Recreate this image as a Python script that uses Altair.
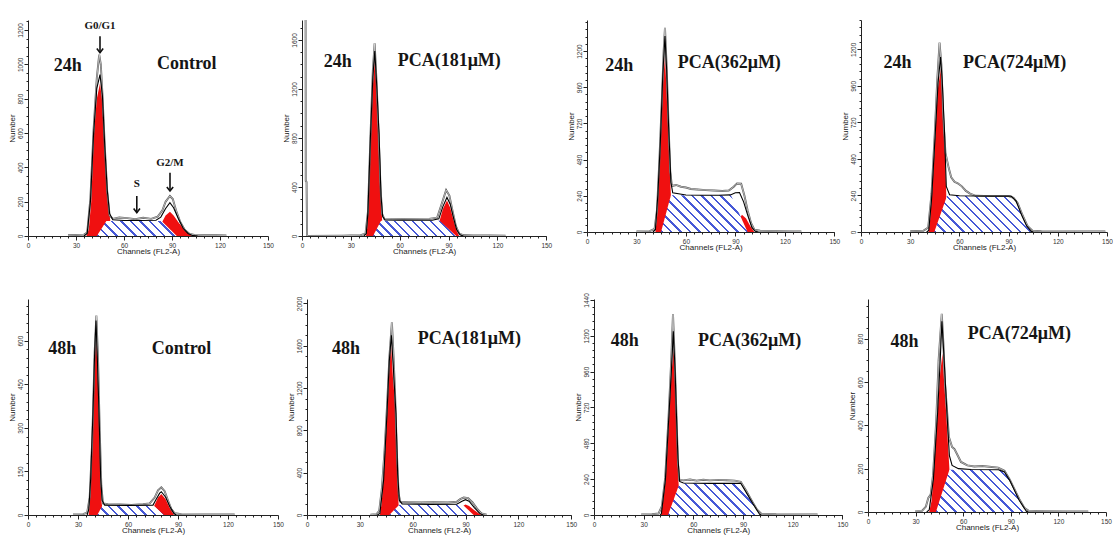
import math
import altair as alt
import pandas as pd

# ---------------- data: (channel, count) ----------------
# 24 h
H24_CTRL_G1 = [(36.5,0),(38,40),(39.5,200),(41.2,590),(43,800),(45,890),(46.2,800),(47.5,590),(49,350),(50.2,200),(51.5,80),(53,20),(54,0)]
H24_CTRL_G2 = [(82,0),(84,85),(86,120),(88.7,141),(91,120),(94,80),(97,45),(100,15),(102.5,0)]
H24_CTRL_S = [(43,0),(49,88),(83.5,88),(93,0)]
H24_CTRL_RAW = [(25,4),(30,6),(35,8),(37,20),(39,220),(41,620),(43,920),(44.5,1056),(45.5,1000),(46.5,830),(48,520),(49.5,260),(51,120),(53,100),(57,108),(62,104),(67,98),(72,106),(77,100),(81,112),(84,150),(86,200),(88.7,233),(90.5,215),(92.5,150),(95,85),(98,35),(101,12),(104,6),(110,4),(118,4),(124,3)]
H24_CTRL_FIT = [(35,0),(37,15),(39,200),(41,600),(43,860),(45,940),(46.5,820),(48,520),(49.5,270),(51,130),(53,95),(60,90),(70,90),(80,92),(83,110),(86,160),(88.7,194),(91,165),(94,100),(97,45),(100,15),(103,2),(106,0)]

H24_P181_G1 = [(39.3,0),(40,60),(40.9,290),(42.1,833),(43.6,1240),(44.8,1445),(46,1150),(47.5,833),(48.5,290),(49.3,110),(50.5,20),(51.5,0)]
H24_P181_G2 = [(82,0),(84.5,125),(86.5,220),(89,290),(91,230),(93,130),(95,40),(96.5,0)]
H24_P181_S = [(43.6,0),(48.5,125),(84.5,125),(94.7,0)]
H24_P181_RAW = [(0,1800),(2.2,1800),(2.3,450),(2.8,440),(3.1,0),(25,3),(30,4),(36,6),(39,20),(40.5,200),(42,800),(43.5,1350),(44.6,1572),(45.8,1250),(47,850),(48.2,400),(49.2,180),(50.5,140),(55,138),(62,140),(70,138),(78,140),(83,150),(85.5,250),(88.5,375),(90.5,330),(92.5,200),(94.5,80),(96.5,20),(99,8),(105,5),(115,4),(125,3)]
H24_P181_FIT = [(38,0),(39.5,20),(40.5,200),(42,800),(43.5,1300),(44.7,1510),(46,1200),(47.3,830),(48.5,330),(49.5,160),(51,130),(60,128),(70,128),(80,128),(84,140),(86.5,240),(89,315),(91,260),(93,150),(95,50),(97,10),(99,0)]

H24_P362_G1 = [(41.5,0),(42.5,100),(43.3,320),(44.8,650),(46.2,1000),(47.3,1167),(48.2,950),(49.3,650),(50.9,240),(51.8,80),(53,0)]
H24_P362_G2 = [(88,0),(92,80),(94,115),(96.5,90),(99,40),(101.5,0)]
H24_P362_S = [(44.9,0),(50.9,243),(87.3,243),(97.4,0)]
H24_P362_RAW = [(30,3),(38,6),(41,20),(42.5,150),(44,500),(45.5,900),(46.5,1200),(47.3,1355),(48.3,1100),(49.5,700),(50.5,400),(51.5,305),(54,312),(57,300),(60,295),(63,285),(67,282),(72,278),(77,275),(82,272),(86,275),(89,300),(91,322),(93.5,320),(95.5,240),(97.5,140),(99.5,60),(101.5,15),(105,8),(115,5),(125,4),(130,3)]
H24_P362_FIT = [(40,0),(41.5,15),(43,250),(44.5,600),(46,1050),(47.3,1300),(48.3,1080),(49.5,700),(50.9,330),(52,260),(60,245),(70,244),(80,244),(87,246),(90,260),(92.5,262),(95,200),(97.5,110),(100,30),(102,5),(104,0)]

H24_P724_G1 = [(41.2,0),(42,60),(43,204),(45.3,642),(47,950),(49,1091),(50,860),(50.9,642),(52,236),(53,80),(54,0)]
H24_P724_G2 = []
H24_P724_S = [(44.7,0),(52.4,236),(91.5,236),(94.5,205),(98,110),(103.7,0)]
H24_P724_RAW = [(30,5),(38,8),(41,30),(43,250),(45,650),(46.5,1000),(47.9,1244),(49,1100),(50.2,750),(51.5,520),(53.5,420),(55,360),(57,330),(59,320),(61.5,300),(64,270),(66.5,252),(70,238),(80,236),(90,236),(93,225),(95.5,190),(98.5,110),(101.5,40),(104.5,8),(110,5),(130,4),(149,3)]
H24_P724_FIT = [(40,0),(41.3,10),(43,210),(45.3,650),(47,980),(48.5,1150),(49.5,1000),(50.9,660),(52,300),(54,245),(60,238),(80,236),(91.5,236),(94.5,205),(98,110),(101,40),(103.7,5),(105,0)]

# 48 h
H48_CTRL_G1 = [(36.4,0),(37,30),(37.6,118),(39,348),(39.8,520),(40.6,635),(41.6,520),(42.6,348),(43.6,118),(44.2,40),(45,10),(46,0)]
H48_CTRL_G2 = [(73,0),(76,35),(78,60),(80,72),(82.5,55),(85,25),(87.6,0)]
H48_CTRL_S = [(41.6,0),(44.6,32),(75.6,32),(81.6,0)]
H48_CTRL_RAW = [(27,2),(33,3),(35.5,8),(37,60),(38.5,250),(40,560),(41,686),(42,540),(43,300),(44,100),(45,40),(48,37),(55,36),(62,35),(69,37),(73,40),(76,60),(78,85),(80,95),(82,82),(84,50),(86,20),(88,6),(92,3),(105,2),(124,2)]
H48_CTRL_FIT = [(35.5,0),(36.5,20),(37.6,125),(39,355),(40,560),(40.8,669),(41.6,540),(42.6,355),(43.6,130),(44.5,50),(46,34),(60,33),(75,34),(77,55),(79,75),(80,80),(82.5,62),(85,30),(87.6,5),(89,0)]

H48_P181_G1 = [(41.4,0),(42.3,100),(43.5,325),(45.4,955),(46.5,1350),(47.7,1616),(48.8,1300),(50.5,955),(51.5,325),(52,100),(53,30),(54,0)]
H48_P181_G2 = [(85,0),(88,80),(90,100),(92,85),(95,45),(98,10),(99.5,0)]
H48_P181_S = [(46.7,0),(52.4,98),(88.4,98),(94.6,0)]
H48_P181_RAW = [(36,3),(39.5,8),(41,40),(42.5,250),(44,600),(45.5,1050),(46.8,1500),(48.2,1821),(49,1550),(50,1150),(51,600),(52,200),(53,125),(58,122),(65,118),(72,120),(80,118),(85,125),(87,150),(89,165),(91.5,160),(94,120),(96.5,60),(99,15),(102,3)]
H48_P181_FIT = [(40,0),(41.4,15),(43.5,330),(45.4,960),(46.7,1450),(47.9,1700),(49,1400),(50.5,960),(51.5,380),(52.4,140),(54,105),(70,100),(85,102),(88,130),(90,145),(92,130),(95,70),(98,15),(100,0)]

H48_P362_G1 = [(40.5,0),(41.5,80),(43.1,230),(45.3,676),(46.8,950),(48.1,1111),(49,900),(49.7,676),(50.5,400),(51.1,207),(52,80),(53,0)]
H48_P362_G2 = []
H48_P362_S = [(44.7,0),(51.7,212),(88.6,212),(100,0)]
H48_P362_RAW = [(28.5,3),(35,5),(39,10),(41,60),(43,250),(45,650),(46.7,1050),(47.7,1345),(48.7,1050),(49.7,700),(50.7,350),(51.5,235),(54,232),(58,238),(62,230),(66,236),(70,232),(75,235),(80,233),(85,230),(88.6,222),(92,160),(95.5,90),(98.5,35),(101,8),(110,5),(125,4),(135,3)]
H48_P362_FIT = [(40,0),(40.7,10),(43.1,235),(45.3,680),(46.8,980),(47.9,1230),(49,960),(49.7,700),(50.7,380),(51.7,225),(54,214),(70,212),(88.6,212),(92,150),(96,75),(100,5),(101,0)]

H48_P724_G1 = [(38.6,0),(40,50),(41.2,146),(43.9,454),(45.5,640),(46.9,731),(48,600),(49.3,454),(50.5,300),(51.3,200),(52.5,80),(54,0)]
H48_P724_G2 = []
H48_P724_S = [(42.8,0),(51.3,195),(82.2,195),(86,185),(89.3,146),(95.3,54),(99.8,0)]
H48_P724_RAW = [(29.7,3),(34,5),(36.5,25),(38,65),(39.5,80),(41,170),(43,420),(44.5,700),(46.5,915),(47.5,780),(48.5,600),(49.7,480),(51,346),(53,300),(54.5,290),(56,269),(58.6,231),(62.6,215),(67,210),(72,212),(78,208),(82,205),(86,190),(89.3,150),(92,110),(95.3,60),(98.5,20),(101.2,6),(110,4),(125,3),(138.8,3)]
H48_P724_FIT = [(37,0),(38.6,10),(41.2,150),(43.9,460),(45.5,700),(46.6,880),(47.7,740),(49.3,520),(50.5,360),(51.3,260),(53,215),(57,200),(65,196),(82.2,195),(86,185),(89.3,146),(95.3,54),(99.8,3),(101,0)]

G1_SETS = [H24_CTRL_G1, H24_P181_G1, H24_P362_G1, H24_P724_G1, H48_CTRL_G1, H48_P181_G1, H48_P362_G1, H48_P724_G1]
G2_SETS = [H24_CTRL_G2, H24_P181_G2, H24_P362_G2, H24_P724_G2, H48_CTRL_G2, H48_P181_G2, H48_P362_G2, H48_P724_G2]
S_SETS = [H24_CTRL_S, H24_P181_S, H24_P362_S, H24_P724_S, H48_CTRL_S, H48_P181_S, H48_P362_S, H48_P724_S]
RAW_SETS = [H24_CTRL_RAW, H24_P181_RAW, H24_P362_RAW, H24_P724_RAW, H48_CTRL_RAW, H48_P181_RAW, H48_P362_RAW, H48_P724_RAW]
FIT_SETS = [H24_CTRL_FIT, H24_P181_FIT, H24_P362_FIT, H24_P724_FIT, H48_CTRL_FIT, H48_P181_FIT, H48_P362_FIT, H48_P724_FIT]

TIMES = ["24h", "24h", "24h", "24h", "48h", "48h", "48h", "48h"]
CONDITIONS = ["Control", "PCA(181μM)", "PCA(362μM)", "PCA(724μM)", "Control", "PCA(181μM)", "PCA(362μM)", "PCA(724μM)"]
TIME_POS = [(24.8,990),(21.9,1423),(19.6,1101),(22.2,1112),(20.6,571),(22.1,1569),(18.5,1167),(23,785)]
COND_POS = [(99.2,1002),(90.4,1431),(86.3,1123),(93.7,1112),(92.1,571),(92.2,1664),(94,1167),(95.4,823)]

# y axis scales (count axis) per panel
Y_MAX = [1258, 1763, 1406, 1393, 743, 2042, 1446, 983]
Y_MAJOR = [200, 400, 240, 240, 150, 400, 240, 200]
Y_MINOR = [50, 100, 48, 48, 30, 100, 48, 50]

# phase annotations of the first panel
PHASES = ["G0/G1", "S", "G2/M"]
PHASE_X = [45, 68, 88.75]
PHASE_LABEL_Y = [1221, 302, 426]
ARROW_TOP = [1163, 233, 368]
ARROW_TIP = [1068, 136, 262]

# ---------------- layout / style ----------------
X_RANGE = [240, 244.3, 247.3, 246, 250, 264.2, 248.4, 238]
PANEL_W = [273.4, 284.3, 274, 246, 278.6, 286.7, 273.3, 238]
PANEL_H = [216, 216, 212, 212, 216, 216, 216, 213]
RED = "#f01010"
HATCH = "#4658d6"
AX = "#222222"


def df(points):
    return pd.DataFrame(points, columns=["ch", "n"])


def hatch_gradient(i):
    s = S_SETS[i]
    xs = [p[0] for p in s]
    W = (max(xs) - min(xs)) * X_RANGE[i] / 150.0
    H = max(p[1] for p in s) * PANEL_H[i] / Y_MAX[i]
    t = (W + H) / (W * W + H * H)
    n_str = max(1, round((W + H) / math.sqrt(2) / 6.6))
    stops = []
    for k in range(n_str):
        a, b, c = k / n_str, (k + 0.24) / n_str, (k + 1) / n_str
        stops += [alt.GradientStop(offset=a, color=HATCH), alt.GradientStop(offset=b, color=HATCH),
                  alt.GradientStop(offset=b, color="#ffffff"), alt.GradientStop(offset=c, color="#ffffff")]
    return alt.LinearGradient(gradient="linear", stops=stops, x1=0, y1=1, x2=t * W, y2=1 - t * H)


def encs(i):
    xaxis = alt.Axis(
        values=list(range(0, 151, 5)),
        labelExpr="datum.value % 30 === 0 ? datum.label : ''",
        tickSize={"condition": {"test": "datum.value % 30 === 0", "value": 4}, "value": 2},
        title="Channels (FL2-A)", labelFontSize=6.5, titleFontSize=8, titleFontWeight="normal",
        labelPadding=2, titlePadding=-1, labelOverlap=False, labelFlush=False, grid=False,
        domainColor=AX, tickColor=AX, labelColor="#333", titleColor="#222",
        labelFont="Liberation Sans", titleFont="Liberation Sans",
    )
    major, minor = Y_MAJOR[i], Y_MINOR[i]
    yvals = [k * minor for k in range(int(Y_MAX[i] // minor) + 1)]
    yaxis = alt.Axis(
        values=yvals, format="d",
        labelExpr=f"datum.value % {major} === 0 ? datum.label : ''",
        tickSize={"condition": {"test": f"datum.value % {major} === 0", "value": 4}, "value": 2},
        title="Number", labelAngle=270, labelAlign="center", labelBaseline="bottom",
        labelFontSize=6.5, titleFontSize=8, titleFontWeight="normal", labelPadding=1, titlePadding=1,
        labelOverlap=False, labelFlush=False, grid=False,
        domainColor=AX, tickColor=AX, labelColor="#333", titleColor="#222",
        labelFont="Liberation Sans", titleFont="Liberation Sans",
    )
    x = alt.X("ch:Q", scale=alt.Scale(domain=[0, 150], range=[0, X_RANGE[i]], nice=False, zero=False), axis=xaxis)
    y = alt.Y("n:Q", scale=alt.Scale(domain=[0, Y_MAX[i]], nice=False), axis=yaxis)
    return x, y


def panel(i):
    x, y = encs(i)
    layers = [alt.Chart(df(G1_SETS[i])).mark_area(color=RED, clip=True).encode(x=x, y=y)]
    if G2_SETS[i]:
        layers.append(alt.Chart(df(G2_SETS[i])).mark_area(color=RED, clip=True).encode(x=x, y=y))
    layers.append(alt.Chart(df(S_SETS[i])).mark_area(color=hatch_gradient(i), clip=True).encode(x=x, y=y))
    raw = df(RAW_SETS[i])
    layers.append(alt.Chart(raw).mark_line(color="#5a5a5a", strokeWidth=1.9, clip=True).encode(x=x, y=y))
    layers.append(alt.Chart(raw).mark_line(color="#f2f2f2", strokeWidth=0.6, clip=True).encode(x=x, y=y))
    layers.append(alt.Chart(df(FIT_SETS[i])).mark_line(color="#000000", strokeWidth=1.1, clip=True).encode(x=x, y=y))
    labels = pd.DataFrame({
        "ch": [TIME_POS[i][0], COND_POS[i][0]],
        "n": [TIME_POS[i][1], COND_POS[i][1]],
        "t": [TIMES[i], CONDITIONS[i]],
    })
    layers.append(alt.Chart(labels).mark_text(font="Liberation Serif", fontWeight="bold", fontSize=18,
                                              color="#151515", align="center", baseline="middle")
                  .encode(x=x, y=y, text="t:N"))
    if i == 0:
        ph = pd.DataFrame({"ch": PHASE_X, "n": PHASE_LABEL_Y, "t": PHASES})
        ar = pd.DataFrame({"ch": PHASE_X, "n": ARROW_TOP, "n2": ARROW_TIP})
        tip = pd.DataFrame({"ch": PHASE_X, "n": ARROW_TIP})
        layers.append(alt.Chart(ph).mark_text(font="Liberation Serif", fontWeight="bold", fontSize=11,
                                              color="#151515", align="center", baseline="middle")
                      .encode(x=x, y=y, text="t:N"))
        layers.append(alt.Chart(ar).mark_rule(color="#111", strokeWidth=1.6).encode(x=x, y=y, y2="n2:Q"))
        layers.append(alt.Chart(tip).mark_point(shape="M-1,-1.3L0,0L1,-1.3", filled=False, color="#111",
                                                strokeWidth=1.6, size=40, opacity=1)
                      .encode(x=x, y=y))
    return alt.layer(*layers).properties(width=PANEL_W[i], height=PANEL_H[i])


row1 = alt.hconcat(*[panel(i) for i in range(4)], spacing=0, bounds="flush")
row2 = alt.hconcat(*[panel(i) for i in range(4, 8)], spacing=0, bounds="flush")
chart = (
    alt.vconcat(row1, row2, spacing=36)
    .properties(padding={"left": 8, "top": 19, "right": 0, "bottom": 0}, background="white")
    .configure_view(stroke=None)
)

chart.save("out.html", embed_options={"renderer": "svg", "actions": False})
